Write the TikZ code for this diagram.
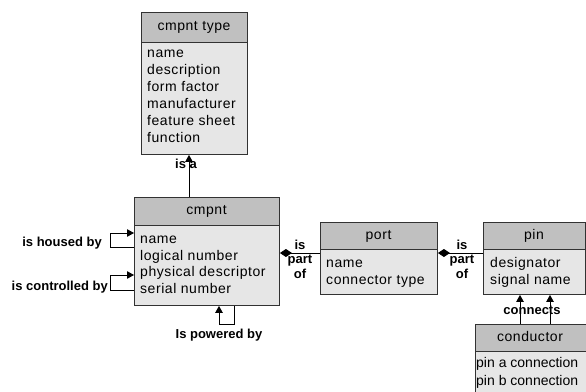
\documentclass[tikz,border=0pt]{standalone}
\usepackage{fontspec}
\setmainfont{Liberation Sans}
\newfontfamily\attrfont[LetterSpace=4]{Liberation Sans}
\usetikzlibrary{arrows.meta,calc}
\definecolor{hdrgray}{RGB}{192,192,192}
\definecolor{bodygray}{RGB}{230,230,230}
\definecolor{edge}{RGB}{50,50,50}
\tikzset{
  hdr/.style={draw=edge,fill=hdrgray,inner sep=0pt,anchor=north west,line width=0.9pt},
  bdy/.style={draw=edge,fill=bodygray,inner sep=0pt,anchor=north west,line width=0.9pt},
  htext/.style={font=\attrfont\fontsize{14}{17}\selectfont,inner sep=0pt,text height=10pt,text depth=3pt},
  atext/.style={font=\attrfont\fontsize{14}{17}\selectfont,inner sep=0pt,anchor=base west},
  ptext/.style={font=\fontsize{14}{17}\selectfont,inner sep=0pt,anchor=base west},
  lbl/.style={font=\bfseries\fontsize{13}{15}\selectfont,inner sep=0pt},
  arr/.style={draw=black,line width=0.9pt,-{Triangle[length=7pt,width=7.5pt]}},
  dia/.style={draw=black,line width=0.9pt,-{Diamond[length=12pt,width=8pt]}}
}
\begin{document}
\begin{tikzpicture}[x=1pt,y=-1pt]
\useasboundingbox (0,0) rectangle (586,391);
\clip (0,0) rectangle (586,391);
\fill[white] (0,0) rectangle (586,391);

% cmpnt type
\node[hdr,minimum width=106pt,minimum height=30pt] (ctypeh) at (141,12) {};
\node[bdy,minimum width=106pt,minimum height=112pt] (ctype) at (141,42) {};
\node[htext] (ctypet) at (194,27) {cmpnt type};
\node[atext] (ct1) at (147,57) {name};
\node[atext] (ct2) at (147,74) {description};
\node[atext] (ct3) at (147,91) {form factor};
\node[atext] (ct4) at (147,108) {manufacturer};
\node[atext] (ct5) at (147,125) {feature sheet};
\node[atext] (ct6) at (147,142) {function};

% cmpnt
\node[hdr,minimum width=145pt,minimum height=28pt] (cmpnth) at (134,197) {};
\node[bdy,minimum width=145pt,minimum height=80pt] (cmpnt) at (134,225) {};
\node[htext] (cmpntt) at (206.5,211) {cmpnt};
\node[atext] (cm1) at (140,243) {name};
\node[atext] (cm2) at (140,260) {logical number};
\node[atext] (cm3) at (140,276) {physical descriptor};
\node[atext] (cm4) at (140,293) {serial number};

% port
\node[hdr,minimum width=117pt,minimum height=27pt] (porth) at (320,222) {};
\node[bdy,minimum width=117pt,minimum height=45pt] (port) at (320,249) {};
\node[htext] (portt) at (378.5,235.5) {port};
\node[atext] (po1) at (326,267) {name};
\node[atext] (po2) at (326,284) {connector type};

% pin
\node[hdr,minimum width=102pt,minimum height=27pt] (pinh) at (483,222) {};
\node[bdy,minimum width=102pt,minimum height=45pt] (pin) at (483,249) {};
\node[htext] (pint) at (534,235.5) {pin};
\node[atext] (pi1) at (490,267) {designator};
\node[atext] (pi2) at (490,284) {signal name};

% conductor
\node[hdr,minimum width=125pt,minimum height=27pt] (condh) at (475,324) {};
\node[bdy,minimum width=125pt,minimum height=60pt] (cond) at (475,351) {};
\node[htext] (condt) at (530,337.5) {conductor};
\node[ptext] (co1) at (476,367) {pin a connection};
\node[ptext] (co2) at (476,385) {pin b connection};

% is a
\coordinate (isa) at ($(cmpnth.north west)+(55,0)$);
\draw[arr] (isa) -- (isa |- ctype.south);
\node[lbl,anchor=base] (isalbl) at (186,168) {is a};

% self loops on cmpnt
\draw[arr] ($(cmpnt.north west)+(0,22)$) -- ++(-24,0) |- ($(cmpnt.north west)+(0,8)$);
\node[lbl,anchor=base east] (housed) at (102,246) {is housed by};
\draw[arr] ($(cmpnt.north west)+(0,65)$) -- ++(-24,0) |- ($(cmpnt.north west)+(0,50)$);
\node[lbl,anchor=base east] (ctrl) at (108,290) {is controlled by};
\draw[arr] ($(cmpnt.south west)+(100,0)$) -- ++(0,19) -| ($(cmpnt.south west)+(85,0)$);
\node[lbl,anchor=base] (powered) at (219,338) {Is powered by};

% part-of connectors
\coordinate (pp1) at ($(port.north west)+(0,4)$);
\draw[dia] (pp1) -- (pp1 -| cmpnt.east);
\node[lbl,anchor=base] (pa1) at (300,249) {is};
\node[lbl,anchor=base] (pa2) at (300,263.5) {part};
\node[lbl,anchor=base] (pa3) at (300,278) {of};

\coordinate (pp2) at ($(pin.north west)+(0,4)$);
\draw[dia] (pp2) -- (pp2 -| port.east);
\node[lbl,anchor=base] (pb1) at (462,249) {is};
\node[lbl,anchor=base] (pb2) at (462,263.5) {part};
\node[lbl,anchor=base] (pb3) at (462,278) {of};

% connects
\coordinate (cn1) at ($(condh.north west)+(45,0)$);
\coordinate (cn2) at ($(condh.north west)+(75,0)$);
\draw[arr] (cn1) -- (cn1 |- pin.south);
\draw[arr] (cn2) -- (cn2 |- pin.south);
\node[lbl,anchor=base] (conn) at (532,314) {connects};
\end{tikzpicture}
\end{document}
